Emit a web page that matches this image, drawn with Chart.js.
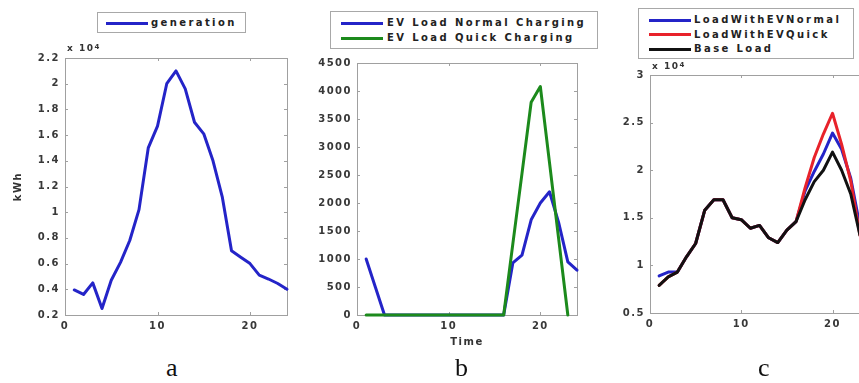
<!DOCTYPE html>
<html><head><meta charset="utf-8">
<script src="https://cdn.jsdelivr.net/npm/chart.js@4.4.1/dist/chart.umd.min.js"></script>
<style>
html,body{margin:0;padding:0;background:#fff;width:859px;height:383px;overflow:hidden;position:relative;}
.wrap{position:absolute;}
.legend{position:absolute;border:1px solid #a8a8a8;background:#fff;box-sizing:border-box;}
.legend .txt{position:absolute;font:bold 10px "DejaVu Sans";letter-spacing:2.4px;color:#222;white-space:nowrap;line-height:12px;}
.legend .sw{position:absolute;height:3px;}
.exp{position:absolute;font:bold 9px "DejaVu Sans";color:#333;letter-spacing:1.5px;white-space:nowrap;}
.exp sup{font-size:7px;position:relative;top:-2px;vertical-align:baseline;}
.cap{position:absolute;font:26px "Liberation Serif";color:#111;line-height:26px;}
</style></head>
<body>
<div class="wrap" id="wa" style="left:0px;top:40px;width:300px;height:300px"><canvas id="ca"></canvas></div>
<div class="wrap" id="wb" style="left:290px;top:45px;width:300px;height:305px"><canvas id="cb"></canvas></div>
<div class="wrap" id="wc" style="left:590px;top:55px;width:300px;height:285px"><canvas id="cc"></canvas></div>
<div id="overlay"></div>
<script>
// ---------- data ----------
const hours = [1,2,3,4,5,6,7,8,9,10,11,12,13,14,15,16,17,18,19,20,21,22,23,24];
const generation = [3950,3600,4500,2500,4700,6100,7800,10200,15000,16700,20000,21000,19600,17000,16100,14000,11200,7000,6500,6000,5100,4800,4450,4000];
const evNormal = [1000,500,0,0,0,0,0,0,0,0,0,0,0,0,0,0,930,1070,1700,2000,2200,1650,950,800];
const evQuick  = [0,0,0,0,0,0,0,0,0,0,0,0,0,0,0,0,1270,2530,3800,4080,2720,1360,0,null];
const loadNormal = [8900,9300,9300,10900,12300,15800,16900,16900,15000,14800,13900,14200,12900,12400,13700,14600,17830,19870,21700,23900,22200,19150,14150,11800];
const loadQuick  = [7900,8800,9300,10900,12300,15800,16900,16900,15000,14800,13900,14200,12900,12400,13700,14600,18170,21330,23800,25980,22720,18860,13200,11000];
const baseLoad   = [7900,8800,9300,10900,12300,15800,16900,16900,15000,14800,13900,14200,12900,12400,13700,14600,16900,18800,20000,21900,20000,17500,13200,11000];
const xTicks = [0,10,20];
const yTicksA = [2000,4000,6000,8000,10000,12000,14000,16000,18000,20000,22000];
const yTicksB = [0,500,1000,1500,2000,2500,3000,3500,4000,4500];
const yTicksC = [5000,10000,15000,20000,25000,30000];
const labelsA = ['generation'];
const labelsB = ['EV Load Normal Charging','EV Load Quick Charging'];
const labelsC = ['LoadWithEVNormal','LoadWithEVQuick','Base Load'];
const captions = ['a','b','c'];

// ---------- styles ----------
const BLUE='#2424c8', GREEN='#1c8a1c', RED='#e8222a', BLACK='#111111';
const TICKFONT={family:'DejaVu Sans',size:10,weight:'bold'};
const TICKCOLOR='#383838';

const framePlugin = {
  id:'frame',
  beforeDraw(chart){ chart.ctx.letterSpacing='1.5px'; },
  beforeDatasetsDraw(chart){
    const ctx=chart.ctx, a=chart.chartArea;
    ctx.save();
    ctx.letterSpacing='0px';
    ctx.strokeStyle='#a0a0a0'; ctx.lineWidth=1;
    ctx.strokeRect(Math.round(a.left)+0.5, Math.round(a.top)+0.5, Math.round(a.right-a.left), Math.round(a.bottom-a.top));
    const xs=chart.scales.x, ys=chart.scales.y;
    ctx.beginPath();
    xs.ticks.forEach(t=>{const p=Math.round(xs.getPixelForValue(t.value))+0.5;
      ctx.moveTo(p,a.bottom); ctx.lineTo(p,a.bottom-3); ctx.moveTo(p,a.top); ctx.lineTo(p,a.top+3);});
    ys.ticks.forEach(t=>{const p=Math.round(ys.getPixelForValue(t.value))+0.5;
      ctx.moveTo(a.left,p); ctx.lineTo(a.left+3,p); ctx.moveTo(a.right,p); ctx.lineTo(a.right-3,p);});
    ctx.stroke(); ctx.restore();
  },
  afterDraw(chart){ chart.ctx.letterSpacing='0px'; }
};

function ds(label, vals, color, order){
  return {label, data: hours.map((h,i)=>({x:h,y:vals[i]})), borderColor:color, backgroundColor:color,
    borderWidth:3, pointRadius:0, tension:0, fill:false, order, clip:false,
    borderJoinStyle:'round', borderCapStyle:'round'};
}

function make(id, datasets, o){
  return new Chart(document.getElementById(id), {
    type:'line',
    data:{datasets},
    plugins:[framePlugin],
    options:{
      responsive:false, animation:false, events:[],
      layout:{padding:o.pad},
      plugins:{legend:{display:false}, tooltip:{enabled:false}},
      scales:{
        x:{type:'linear', min:0, max:24,
          grid:{display:false, drawTicks:false}, border:{display:false},
          ticks:{font:TICKFONT, color:TICKCOLOR, padding:5, maxRotation:0, autoSkip:false},
          afterBuildTicks(s){ s.ticks = xTicks.map(v=>({value:v})); },
          afterFit(s){ s.height=o.xh; },
          title:o.xtitle ? {display:true, text:o.xtitle, font:TICKFONT, color:'#333', padding:{top:1,bottom:2}} : {display:false}
        },
        y:{type:'linear', min:o.ymin, max:o.ymax,
          grid:{display:false, drawTicks:false}, border:{display:false},
          ticks:{font:TICKFONT, color:TICKCOLOR, padding:5, autoSkip:false, callback:o.fmt},
          afterBuildTicks(s){ s.ticks = o.yt.map(v=>({value:v})); },
          afterFit(s){ s.width=o.yw; },
          title:o.ytitle ? {display:true, text:o.ytitle, font:{family:'DejaVu Sans',size:10,weight:'bold'}, color:'#333', padding:{top:0,bottom:0}} : {display:false}
        }
      }
    }
  });
}
function setSize(id,w,h){const c=document.getElementById(id); c.width=w; c.height=h; c.style.width=w+'px'; c.style.height=h+'px';}
setSize('ca',300,300); setSize('cb',300,305); setSize('cc',300,285);

const fmt4 = v => String(parseFloat((v/1e4).toFixed(2)));
make('ca',[ds(labelsA[0],generation,BLUE,0)],
  {pad:{left:12,top:18,right:13,bottom:0}, yw:53, xh:25, ymin:2000, ymax:22000, yt:yTicksA, fmt:fmt4, ytitle:'kWh'});
make('cb',[ds(labelsB[0],evNormal,BLUE,1), ds(labelsB[1],evQuick,GREEN,0)],
  {pad:{left:0,top:18,right:13,bottom:0}, yw:67, xh:35, ymin:0, ymax:4500, yt:yTicksB, fmt:v=>String(v), xtitle:'Time'});
make('cc',[ds(labelsC[0],loadNormal,BLUE,2), ds(labelsC[1],loadQuick,RED,1), ds(labelsC[2],baseLoad,BLACK,0)],
  {pad:{left:0,top:20,right:21,bottom:0}, yw:60, xh:27, ymin:5000, ymax:30000, yt:yTicksC, fmt:fmt4});

// ---------- legends & annotations ----------
const ov=document.getElementById('overlay');
function legend(box, labels, colors, rowY0, rowStep, swX1, swX2, txtX){
  const d=document.createElement('div'); d.className='legend';
  Object.assign(d.style,{left:box[0]+'px',top:box[1]+'px',width:box[2]+'px',height:box[3]+'px'});
  labels.forEach((l,i)=>{
    const cy=rowY0+i*rowStep-box[1];
    const s=document.createElement('div'); s.className='sw';
    Object.assign(s.style,{left:(swX1-box[0])+'px',width:(swX2-swX1)+'px',top:(cy-1.5)+'px',background:colors[i]});
    const t=document.createElement('div'); t.className='txt'; t.textContent=l;
    Object.assign(t.style,{left:(txtX-box[0])+'px',top:(cy-6)+'px'});
    d.appendChild(s); d.appendChild(t);
  });
  ov.appendChild(d);
}
legend([97,12,149,21], labelsA, [BLUE], 22, 0, 105, 147, 150);
legend([330,11,268,38], labelsB, [BLUE,GREEN], 22, 15, 340, 382, 386);
legend([638,8,216,51], labelsC, [BLUE,RED,BLACK], 19, 14.5, 648, 690, 693);

function exp(x,y){const e=document.createElement('div'); e.className='exp'; e.innerHTML='x 10<sup>4</sup>';
  Object.assign(e.style,{left:x+'px',top:y+'px'}); ov.appendChild(e);}
exp(67,43); exp(652,61);

[[173,captions[0]],[462,captions[1]],[765,captions[2]]].forEach(([x,t])=>{
  const c=document.createElement('div'); c.className='cap'; c.textContent=t;
  Object.assign(c.style,{left:(x-7)+'px',top:'355px'}); ov.appendChild(c);
});
</script>
</body></html>
